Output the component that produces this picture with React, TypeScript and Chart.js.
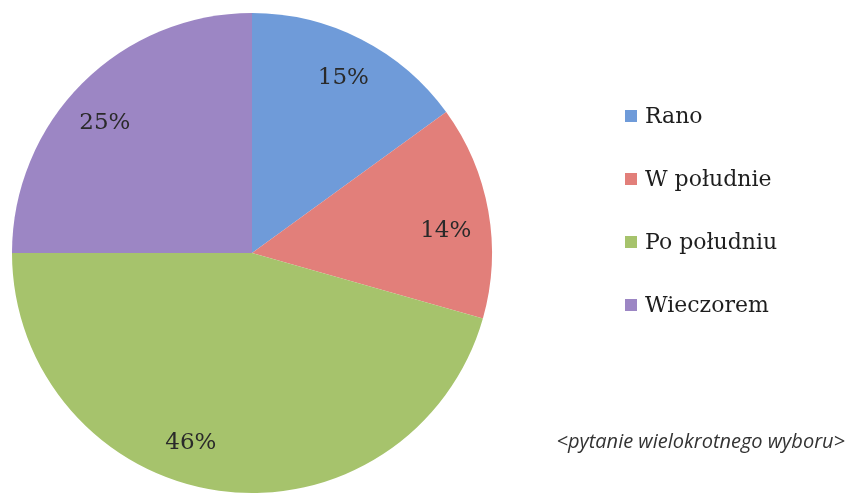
import React, { useEffect, useRef } from "react";
import { Chart, registerables } from "chart.js";

Chart.register(...registerables);

const categories = ["Rano", "W południe", "Po południu", "Wieczorem"];
const values = [15, 14.4, 45.6, 25];
const colors = ["#6f9bd9", "#e27f7a", "#a6c36c", "#9c86c4"];
const caption = "<pytanie wielokrotnego wyboru>";

// label nudges (px) relative to the default 0.82·R centroid position
const labelNudges = [
  [2, 0],
  [0, 12],
  [-34, -5],
  [-8, 9],
];

const labelsPlugin = {
  id: "customLabels",
  afterDraw(chart: any) {
    const ctx = chart.ctx;
    const meta = chart.getDatasetMeta(0);
    const ds = chart.data.datasets[0];
    const total = ds.data.reduce((a: number, b: number) => a + b, 0);
    ctx.save();
    ctx.font = "23px 'DejaVu Serif'";
    ctx.fillStyle = "#2a2a2a";
    ctx.textAlign = "center";
    ctx.textBaseline = "middle";
    meta.data.forEach((arc: any, i: number) => {
      const mid = (arc.startAngle + arc.endAngle) / 2;
      const r = arc.outerRadius * 0.82;
      const x = arc.x + Math.cos(mid) * r + labelNudges[i][0];
      const y = arc.y + Math.sin(mid) * r + labelNudges[i][1];
      ctx.fillText(Math.round((ds.data[i] / total) * 100) + "%", x, y);
    });
    // legend
    ctx.textAlign = "left";
    ctx.textBaseline = "alphabetic";
    ctx.font = "22px 'DejaVu Serif'";
    chart.data.labels.forEach((lab: string, i: number) => {
      const by = 123 + i * 63;
      ctx.fillStyle = ds.backgroundColor[i];
      ctx.fillRect(625, by - 13, 12, 12);
      ctx.fillStyle = "#1e1e1e";
      ctx.fillText(lab, 645, by);
    });
    ctx.font = "italic 20px 'Open Sans'";
    ctx.fillStyle = "#333";
    ctx.textAlign = "right";
    ctx.fillText(caption, 845, 448);
    ctx.restore();
  },
};

export default function App() {
  const ref = useRef<HTMLCanvasElement>(null);
  useEffect(() => {
    document.body.style.margin = "0";
    const chart = new Chart(ref.current!, {
      type: "pie",
      data: {
        labels: categories,
        datasets: [
          {
            data: values,
            backgroundColor: colors,
            borderWidth: 0,
          },
        ],
      },
      options: {
        animation: false,
        responsive: false,
        layout: { padding: { left: 12, top: 13, right: 361, bottom: 2 } },
        plugins: { legend: { display: false }, tooltip: { enabled: false } },
      },
      plugins: [labelsPlugin],
    });
    return () => chart.destroy();
  }, []);
  return (
    <div style={{ width: 853, height: 495, background: "#fff" }}>
      <canvas ref={ref} width={853} height={495} />
    </div>
  );
}
